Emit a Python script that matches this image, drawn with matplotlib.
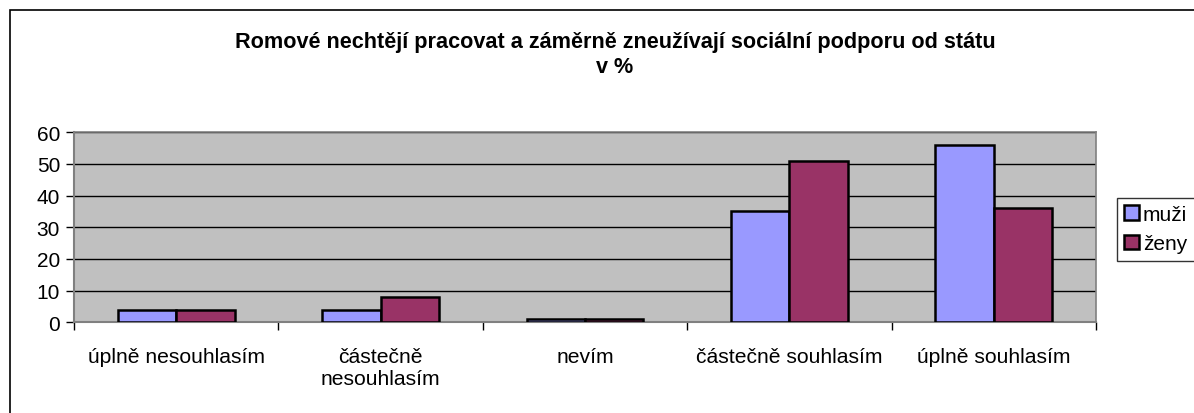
import matplotlib.pyplot as plt
import numpy as np
from matplotlib.patches import Rectangle

categories = ["úplně nesouhlasím", "částečně\nnesouhlasím", "nevím",
              "částečně souhlasím", "úplně souhlasím"]
muzi = [4, 4, 1, 35, 56]
zeny = [4, 8, 1, 51, 36]
series_names = ["muži", "ženy"]
yticks = [0, 10, 20, 30, 40, 50, 60]
title = "Romové nechtějí pracovat a záměrně zneužívají sociální podporu od státu\nv %"

plt.rcParams['font.family'] = ['Liberation Sans', 'DejaVu Sans']

W, H = 1194, 414
fig = plt.figure(figsize=(W / 100, H / 100), dpi=100)
fig.patch.set_facecolor('white')

# outer chart border
fig.patches.append(Rectangle((10 / W, -0.05), 1.2, (H - 11) / H + 0.05,
                             transform=fig.transFigure, fill=False,
                             edgecolor='black', linewidth=1.2))

ax = fig.add_axes([74 / W, (H - 323.3) / H, (1096 - 74) / W, 190 / H])
ax.set_facecolor('#C0C0C0')

x = np.arange(len(categories))
w = 0.286
ax.bar(x - w / 2, muzi, w, color='#9999FF', edgecolor='black', linewidth=1.8,
       label=series_names[0], zorder=3)
ax.bar(x + w / 2, zeny, w, color='#993366', edgecolor='black', linewidth=1.8,
       label=series_names[1], zorder=3)

ax.set_xlim(-0.5, len(categories) - 0.5)
ax.set_ylim(0, 60)
ax.set_yticks(yticks)
ax.yaxis.grid(True, color='black', linewidth=1, zorder=1)
ax.set_axisbelow(True)

ax.set_xticks(x)
ax.set_xticklabels(categories, fontsize=15.2, linespacing=1.15)
ax.tick_params(axis='x', which='major', length=0, pad=18)
ax.set_xticks(np.arange(-0.5, len(categories), 1), minor=True)
ax.tick_params(axis='x', which='minor', length=6, width=1, color='black')
ax.tick_params(axis='y', length=6, width=1, labelsize=15, pad=4)

for side in ['top', 'right']:
    ax.spines[side].set_color('#808080')
    ax.spines[side].set_linewidth(1.2)
for side in ['left', 'bottom']:
    ax.spines[side].set_color('#808080')
    ax.spines[side].set_linewidth(1.5)

fig.text(615 / W, 1 - 55 / H, title, ha='center', va='center',
         fontsize=15.6, fontweight='bold', linespacing=1.3)

leg = fig.legend(loc='center left', bbox_to_anchor=(1117 / W, 1 - 230 / H),
                 fontsize=15, frameon=True, fancybox=False, edgecolor='black',
                 handlelength=0.7, handleheight=0.7, handletextpad=0.2,
                 borderpad=0.35, labelspacing=0.5, borderaxespad=0)
leg.get_frame().set_linewidth(1)

fig.savefig('out.png', dpi=100)
